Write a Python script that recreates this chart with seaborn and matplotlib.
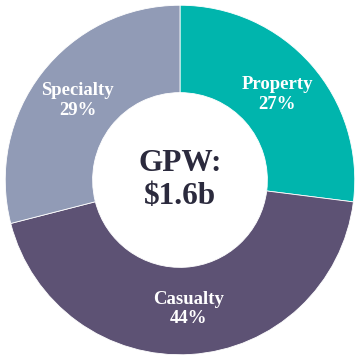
import numpy as np
import matplotlib.pyplot as plt
import seaborn as sns

# segment data
segments = ['Property', 'Casualty', 'Specialty']
shares = [27, 44, 29]
colors = sns.color_palette(['#00b5ad', '#5d5274', '#919bb6'])
center_label = 'GPW:\n$1.6b'

sns.set_style('white')
plt.rcParams['font.family'] = ['Liberation Serif', 'DejaVu Serif']

fig, ax = plt.subplots(figsize=(3.6, 3.6), dpi=100)
fig.subplots_adjust(left=0, right=1, bottom=0, top=1)

wedges, texts = ax.pie(shares, colors=colors, startangle=90, counterclock=False,
                       radius=1.0,
                       wedgeprops=dict(width=0.5, edgecolor='white', linewidth=0.6))

# labels inside the ring
labels = ['%s\n%d%%' % (s, v) for s, v in zip(segments, shares)]
for w, lab in zip(wedges, labels):
    ang = np.deg2rad((w.theta1 + w.theta2) / 2)
    r = 0.74
    ax.text(r * np.cos(ang), r * np.sin(ang), lab, ha='center', va='center',
            color='white', fontsize=13.5, fontweight='bold', linespacing=1.2)

ax.text(0, 0, center_label, ha='center', va='center', color='#2b2a3d',
        fontsize=22.5, fontweight='bold', linespacing=1.2)

ax.set_xlim(-1.03, 1.03)
ax.set_ylim(-1.03, 1.03)
ax.set_aspect('equal')
ax.axis('off')

fig.savefig('out.png', dpi=100, facecolor='white')
